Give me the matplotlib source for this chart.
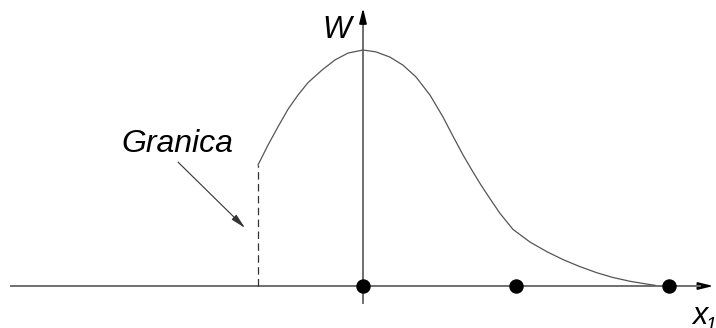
import matplotlib.pyplot as plt

# curve W(x1) (x in units of dot spacing, W relative to peak)
curve_x = [-0.686, -0.621, -0.556, -0.490, -0.425, -0.359, -0.268, -0.183, -0.098, 0.0,
           0.085, 0.176, 0.261, 0.346, 0.438, 0.523, 0.588, 0.654, 0.719, 0.771,
           0.830, 0.895, 0.980, 1.092, 1.203, 1.307, 1.418, 1.529, 1.634, 1.745,
           1.856, 1.908]
curve_w = [0.513, 0.597, 0.674, 0.749, 0.809, 0.862, 0.915, 0.958, 0.987, 1.0,
           0.992, 0.970, 0.936, 0.886, 0.809, 0.716, 0.635, 0.555, 0.483, 0.428,
           0.370, 0.308, 0.240, 0.186, 0.145, 0.112, 0.082, 0.056, 0.036, 0.020,
           0.008, 0.003]
boundary_x = -0.686
dots_x = [0, 1, 2]
label_y = 'W'
label_x = 'x'
label_sub = '1'
label_boundary = 'Granica'

plt.rcParams['font.family'] = ['Liberation Sans', 'DejaVu Sans']

fig = plt.figure(figsize=(7.16, 3.28), dpi=100)
ax = fig.add_axes([0, 0, 1, 1])
ax.set_xlim(-363 / 153, (716 - 363) / 153)
ax.set_ylim((286 - 328) / 236, 286 / 236)
ax.axis('off')

axis_col = '#7a7a7a'
# x1 axis
ax.annotate('', xy=(2.29, 0), xytext=(-2.30, 0),
            arrowprops=dict(arrowstyle='-|>,head_length=0.9,head_width=0.22',
                            color='black', lw=1.2, shrinkA=0, shrinkB=0),
            zorder=1)
ax.plot([-2.30, 2.2], [0, 0], color=axis_col, lw=1.3, zorder=2)
# W axis
ax.annotate('', xy=(0, 1.178), xytext=(0, -0.072),
            arrowprops=dict(arrowstyle='-|>,head_length=0.9,head_width=0.22',
                            color='black', lw=1.2, shrinkA=0, shrinkB=0),
            zorder=1)
ax.plot([0, 0], [-0.072, 1.1], color=axis_col, lw=1.3, zorder=2)

ax.plot(curve_x, curve_w, color='#555555', lw=0.9, zorder=3)
ax.plot([boundary_x, boundary_x], [0, curve_w[0]], color='#333333', lw=0.9,
        dashes=(6, 3.5), zorder=3)
ax.plot(dots_x, [0] * len(dots_x), 'o', color='black', ms=9.4, zorder=4)

ax.text(-0.268, 1.05, label_y, fontsize=22, style='italic', ha='left', va='baseline')
ax.text(2.15, -0.161, label_x, fontsize=22, style='italic', ha='left', va='baseline')
ax.text(2.24, -0.185, label_sub, fontsize=14, style='italic', ha='left', va='baseline')

ax.text(-1.58, 0.568, label_boundary, fontsize=23, style='italic', ha='left', va='baseline')
ax.annotate('', xy=(-0.771, 0.246), xytext=(-1.209, 0.525),
            arrowprops=dict(arrowstyle='-|>,head_length=0.9,head_width=0.2',
                            color='#333333', lw=0.8, shrinkA=0, shrinkB=0))

fig.savefig('out.png', dpi=100)
